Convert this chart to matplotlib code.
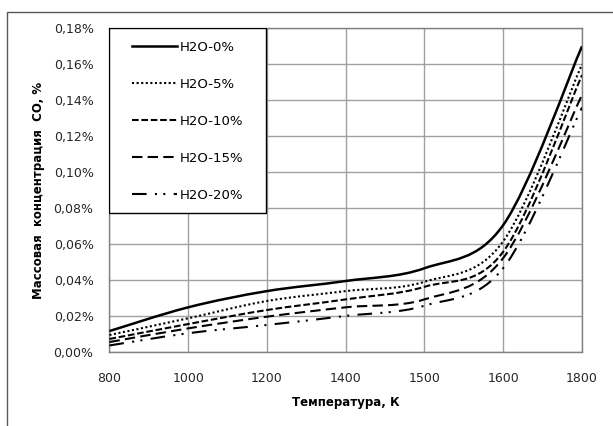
import matplotlib
matplotlib.use('Agg')
import matplotlib.pyplot as plt
import numpy as np
from matplotlib.path import Path
from matplotlib.patches import PathPatch, Rectangle
from matplotlib.lines import Line2D

# температура, К (ось категорий, как в Excel)
temps = ['800', '1000', '1200', '1400', '1500', '1600', '1800']

# массовая концентрация CO, %
co_h2o_0 = [0.0118, 0.0250, 0.0340, 0.0396, 0.0467, 0.0707, 0.1700]
co_h2o_5 = [0.0096, 0.0189, 0.0285, 0.0340, 0.0392, 0.0617, 0.1600]
co_h2o_10 = [0.0074, 0.0157, 0.0235, 0.0294, 0.0364, 0.0559, 0.1540]
co_h2o_15 = [0.0057, 0.0133, 0.0198, 0.0250, 0.0294, 0.0524, 0.1430]
co_h2o_20 = [0.0038, 0.0106, 0.0152, 0.0202, 0.0259, 0.0468, 0.1360]

labels = ['H2O-0%', 'H2O-5%', 'H2O-10%', 'H2O-15%', 'H2O-20%']
series = [co_h2o_0, co_h2o_5, co_h2o_10, co_h2o_15, co_h2o_20]
styles = ['-', (0, (1, 1.2)), (0, (3.2, 1.3)), (0, (5, 2.5)), (0, (7, 4, 1, 3, 1, 4))]
widths = [1.8, 1.5, 1.5, 1.5, 1.5]


def smooth_path(x, y):
    # сглаженная линия как в Excel: кубические кривые Безье через точки
    p = np.column_stack([x, y])
    pp = np.vstack([p[0], p, p[-1]])
    verts = [p[0]]
    codes = [Path.MOVETO]
    for i in range(len(p) - 1):
        c1 = pp[i + 1] + (pp[i + 2] - pp[i]) / 6
        c2 = pp[i + 2] - (pp[i + 3] - pp[i + 1]) / 6
        verts += [c1, c2, pp[i + 2]]
        codes += [Path.CURVE4] * 3
    return Path(verts, codes)


fig = plt.figure(figsize=(6.13, 4.26), dpi=100)
ax = fig.add_axes([0.1786, 0.173, 0.7708, 0.7606])

xpos = np.arange(len(temps))
handles = []
for vals, lab, ls, lw in zip(series, labels, styles, widths):
    patch = PathPatch(smooth_path(xpos, vals), fill=False, edgecolor='black',
                      linestyle=ls, linewidth=lw, zorder=3)
    ax.add_patch(patch)
    handles.append(Line2D([], [], color='black', linestyle=ls, linewidth=lw, label=lab))

ax.set_xlim(0, len(temps) - 1)
ax.set_ylim(0, 0.18)
ax.set_xticks(xpos)
ax.set_xticklabels(temps)
yt = np.arange(0, 0.181, 0.02)
ax.set_yticks(yt)
ax.set_yticklabels([('%.2f%%' % v).replace('.', ',') for v in yt])
ax.tick_params(length=0, labelsize=9, colors='#262626')
ax.tick_params(axis='y', pad=11.5)
ax.tick_params(axis='x', pad=14)

ax.grid(True, color='#a0a0a0', linewidth=1.0)
ax.set_axisbelow(True)
for sp in ax.spines.values():
    sp.set_color('#808080')
    sp.set_linewidth(1.0)

ax.set_xlabel('Температура, К', fontsize=8.5, fontweight='bold', labelpad=8)
ax.set_ylabel('Массовая  концентрация  CO, %', fontsize=8.5, fontweight='bold', labelpad=6)

# рамка легенды
ax.add_patch(Rectangle((0, 0.431), 0.3306, 0.569, transform=ax.transAxes,
                       facecolor='white', edgecolor='black', linewidth=1.0, zorder=4))
ax.legend(handles=handles, loc='upper left', bbox_to_anchor=(0.047, 0.9605),
          frameon=False, fontsize=9.5, handlelength=3.4, handletextpad=0.25,
          labelspacing=1.81, borderpad=0, borderaxespad=0).set_zorder(5)

# внешняя рамка диаграммы
fig.add_artist(Rectangle((7 / 613, -0.5), 2, 0.5 + 1 - 12 / 426, transform=fig.transFigure,
                         fill=False, edgecolor='#595959', linewidth=1.0))

plt.savefig('out.png', dpi=100)
